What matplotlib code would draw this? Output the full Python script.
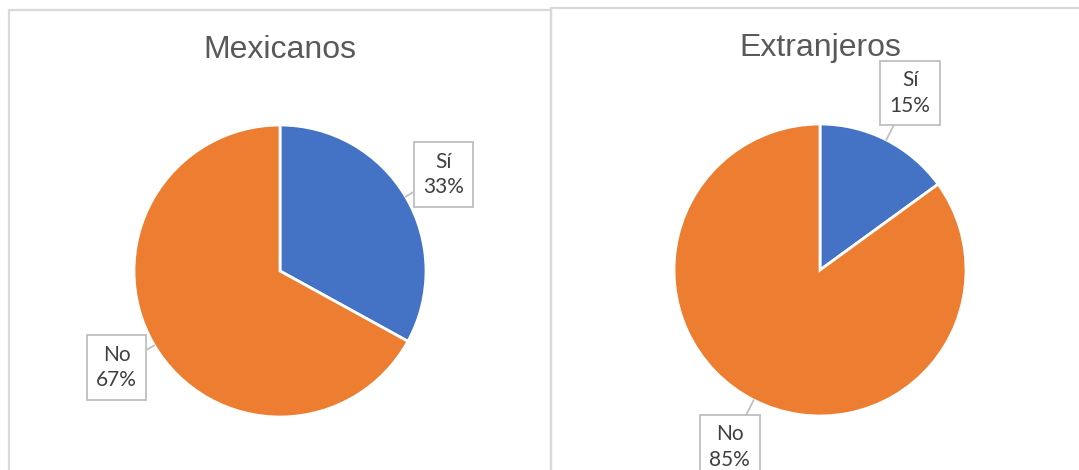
import numpy as np
import matplotlib
matplotlib.use("Agg")
import matplotlib.pyplot as plt
from matplotlib.patches import Rectangle

titles = ["Mexicanos", "Extranjeros"]
categories = ["Sí", "No"]
mexicanos = [33, 67]
extranjeros = [15, 85]
colors = ["#4472C4", "#ED7D31"]

W, H = 1079, 470
fig = plt.figure(figsize=(W / 100, H / 100), dpi=100)

# chart frames (Excel-style borders)
frame_kw = dict(transform=fig.transFigure, fill=False, edgecolor="#D9D9D9",
                linewidth=1.6, clip_on=False)
fig.patches.append(Rectangle((9 / W, -0.05), (551 - 9) / W, (H - 10) / H + 0.05, **frame_kw))
fig.patches.append(Rectangle((551 / W, -0.05), 0.5, (H - 8) / H + 0.05, **frame_kw))

# pie centers in pixels (x, y from top), radius
centers = [(280, 271), (820, 270)]
R = 146
title_y = [50, 48]


def draw_pie(values, title, center, ty):
    cx, cy = center
    ax = fig.add_axes([(cx - R) / W, (H - cy - R) / H, 2 * R / W, 2 * R / H])
    wedges, _ = ax.pie(values, colors=colors, startangle=90, counterclock=False,
                       radius=1, wedgeprops=dict(edgecolor="white", linewidth=2))
    ax.set_xlim(-1, 1)
    ax.set_ylim(-1, 1)
    ax.set_aspect("equal")
    ax.axis("off")
    for w, cat, v in zip(wedges, categories, values):
        mid = np.deg2rad((w.theta1 + w.theta2) / 2)
        tip = (np.cos(mid), np.sin(mid))
        dist = 1.3 if abs(np.cos(mid)) > 0.6 else 1.36
        box = (dist * np.cos(mid), dist * np.sin(mid))
        ax.annotate(f"{cat}\n{v}%", xy=tip, xytext=box, ha="center", va="center",
                    fontsize=15, family=["Lato", "DejaVu Sans"], color="#404040",
                    linespacing=1.35, annotation_clip=False,
                    bbox=dict(boxstyle="square,pad=0.45", facecolor="white",
                              edgecolor="#BFBFBF", linewidth=1.3),
                    arrowprops=dict(arrowstyle="-", color="#BFBFBF", linewidth=1.3,
                                    shrinkA=0, shrinkB=0))
    fig.text(cx / W, 1 - ty / H, title, ha="center", va="center", fontsize=23,
             family=["Liberation Sans", "DejaVu Sans"], color="#595959")


draw_pie(mexicanos, titles[0], centers[0], title_y[0])
draw_pie(extranjeros, titles[1], centers[1], title_y[1])

fig.savefig("out.png", dpi=100, facecolor="white")
